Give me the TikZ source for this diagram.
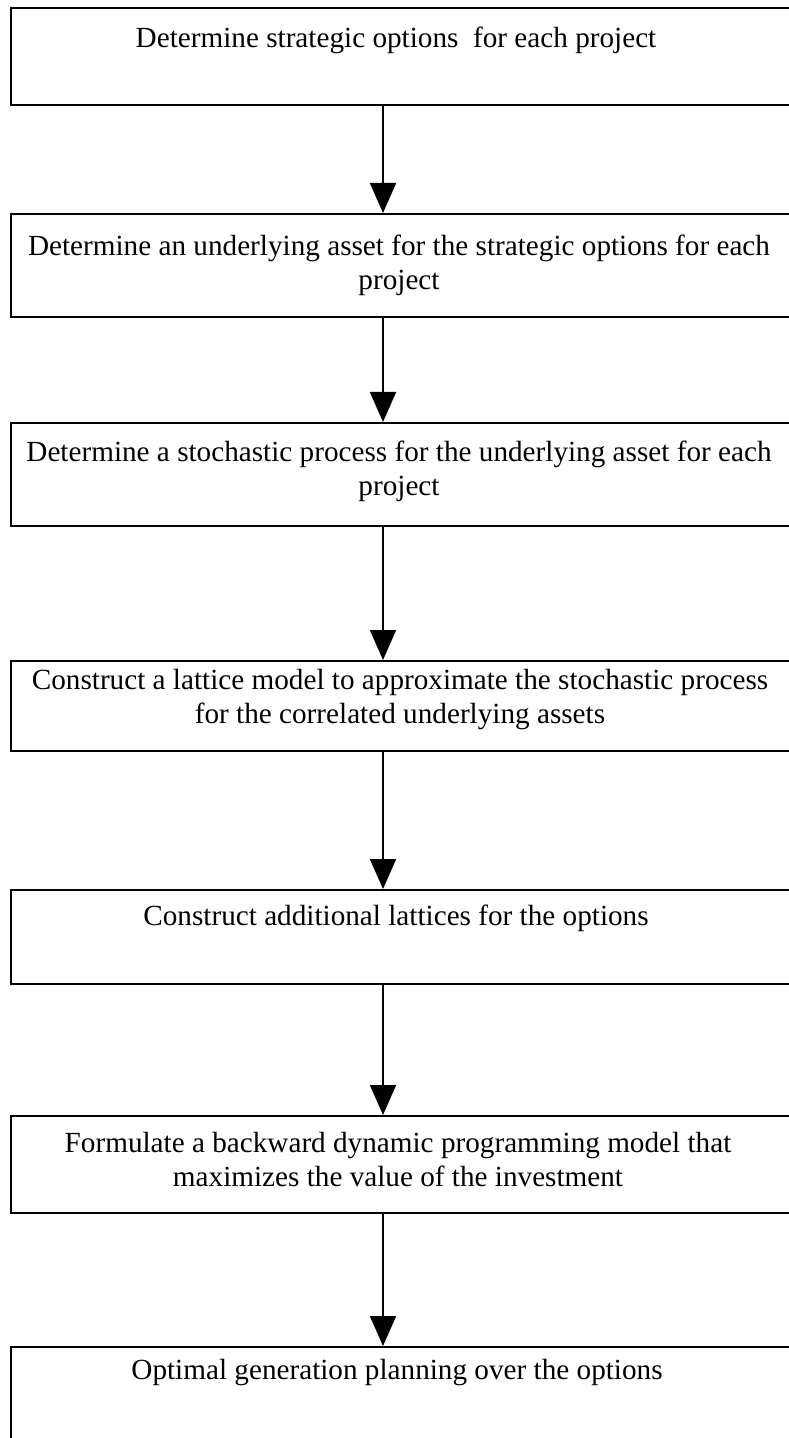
\documentclass[tikz,border=0pt]{standalone}
\usepackage{fontspec}
\setmainfont{Liberation Serif}
\usepackage{tikz}
\usetikzlibrary{arrows.meta,positioning,calc}

\begin{document}
\begin{tikzpicture}[
    x=0.5pt, y=-0.5pt,
    stepbox/.style={rectangle, draw, line width=1pt, inner sep=0pt, anchor=north west, minimum width=400pt},
    steptext/.style={align=center, inner sep=0pt, font=\fontsize{14.6pt}{17pt}\selectfont},
    arr/.style={-{Triangle[width=13pt,length=15pt]}, line width=0.9pt},
]
    \useasboundingbox (0,0) rectangle (788,1438);
    \coordinate (axis) at (383,0);

    % Boxes
    \node[stepbox, minimum height=48.5pt] (box1) at (10,7) {};
    \node[stepbox, minimum height=51.5pt] (box2) at (10,213) {};
    \node[stepbox, minimum height=51.5pt] (box3) at (10,422) {};
    \node[stepbox, minimum height=45pt] (box4) at (10,660) {};
    \node[stepbox, minimum height=47pt] (box5) at (10,889) {};
    \node[stepbox, minimum height=48.5pt] (box6) at (10,1115) {};
    \node[stepbox, minimum height=55pt] (box7) at (10,1346) {};

    % Texts
    \node[steptext] (t1) at (396,40) {Determine strategic options\ \ for each project};
    \node[steptext] (t2) at (399,265) {Determine an underlying asset for the strategic options for each\\project};
    \node[steptext] (t3) at (399,471.5) {Determine a stochastic process for the underlying asset for each\\project};
    \node[steptext] (t4) at (400,700) {Construct a lattice model to approximate the stochastic process\\for the correlated underlying assets};
    \node[steptext] (t5) at (396,918) {Construct additional lattices for the options};
    \node[steptext] (t6) at (398,1159.5) {Formulate a backward dynamic programming model that\\maximizes the value of the investment};
    \node[steptext] (t7) at (397,1373) {Optimal generation planning over the options};

    % Arrows
    \draw[arr] (box1.south -| axis) -- (box2.north -| axis);
    \draw[arr] (box2.south -| axis) -- (box3.north -| axis);
    \draw[arr] (box3.south -| axis) -- (box4.north -| axis);
    \draw[arr] (box4.south -| axis) -- (box5.north -| axis);
    \draw[arr] (box5.south -| axis) -- (box6.north -| axis);
    \draw[arr] (box6.south -| axis) -- (box7.north -| axis);
\end{tikzpicture}
\end{document}
